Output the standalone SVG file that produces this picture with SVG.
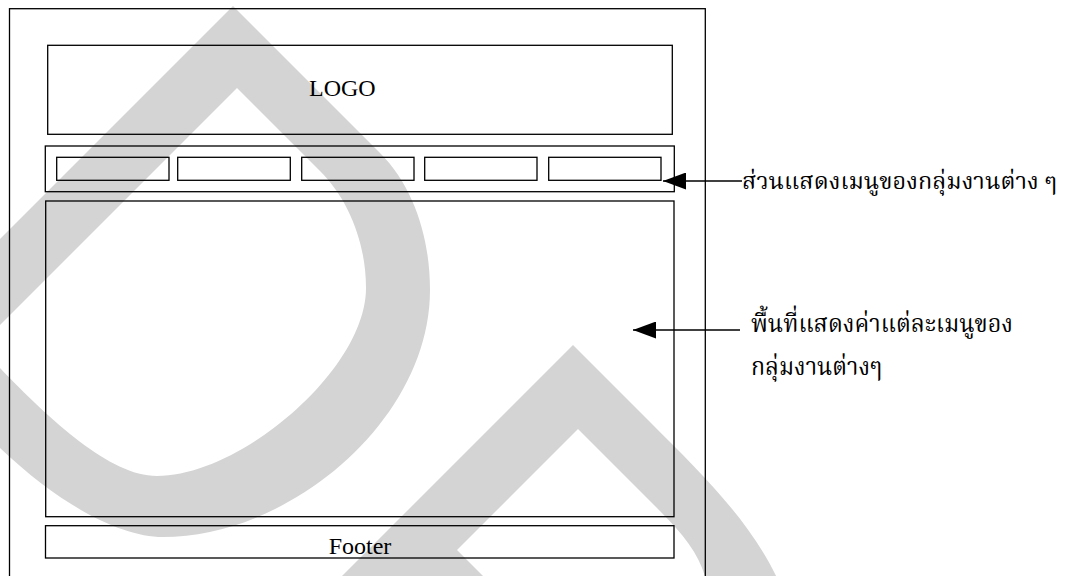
<svg xmlns="http://www.w3.org/2000/svg" width="1068" height="576" viewBox="0 0 1068 576">
<style>
.box{fill:none;stroke:#000;stroke-width:1.3}
.lbl{font-family:"Liberation Serif","Times New Roman",serif;font-size:24px;fill:#000}
.th{font-family:"Noto Serif Thai","Norasi","Kinnari","Angsana New","Noto Sans Thai Looped","Garuda","Noto Sans Thai","Loma",sans-serif;font-size:25px;fill:#000}
.th1{font-size:23.5px}
.conn{stroke:#000;stroke-width:1.3;fill:none}
.wm{fill:#d4d4d4;fill-rule:evenodd}
</style>
<defs>
<marker id="ah" markerUnits="userSpaceOnUse" markerWidth="24" markerHeight="17" refX="23" refY="8.5" orient="auto">
<path d="M0,0 L23,8.5 L0,17 Z" fill="#000"/>
</marker>
</defs>
<g id="watermark">
<path class="wm" d="M-20,259 L233,6 L380,153 C415,188 430,240 430,290 C430,420 290,537 163,537 C120,537 60,505 0,448 L-20,428 Z M237,88 L-20,345 L-20,350 L0,368 C50,420 110,476 157,476 C240,476 366,370 366,288 C366,245 350,201 320,171 Z"/>
<path class="wm" d="M573,345 L650,422 C700,472 750,520 778,580 L706,580 C700,556 685,536 660,511 L578,429 L457,550 L487,580 L338,580 Z"/>
</g>
<g id="page"><rect class="box" x="9.5" y="8.7" width="695.8" height="600"/></g>
<g id="logo"><rect class="box" x="47.7" y="45.3" width="624.6" height="89"/><text class="lbl" x="309" y="96">LOGO</text></g>
<g id="menubar">
<rect class="box" x="45.3" y="146" width="629" height="45.7"/>
<rect class="box" x="56.7" y="157.3" width="112.3" height="23"/>
<rect class="box" x="177.7" y="157.3" width="112.6" height="23"/>
<rect class="box" x="301.7" y="157.3" width="112.3" height="23"/>
<rect class="box" x="424.7" y="157.3" width="112.3" height="23"/>
<rect class="box" x="548.7" y="157.3" width="112.3" height="23"/>
</g>
<g id="content"><rect class="box" x="45.7" y="201" width="628.3" height="315.7"/></g>
<g id="footer"><rect class="box" x="45.5" y="525.7" width="628.5" height="32.3"/><text class="lbl" x="360" y="553.7" text-anchor="middle">Footer</text></g>
<g id="note-menu"><text class="th th1" x="742" y="189" textLength="315" lengthAdjust="spacingAndGlyphs">ส่วนแสดงเมนูของกลุ่มงานต่าง ๆ</text></g>
<g id="note-content"><text class="th" x="751" y="331.5" textLength="262" lengthAdjust="spacingAndGlyphs">พื้นที่แสดงค่าแต่ละเมนูของ</text><text class="th" x="751" y="375" textLength="131" lengthAdjust="spacingAndGlyphs">กลุ่มงานต่างๆ</text></g>
<g id="connectors">
<line class="conn" x1="742" y1="181" x2="663" y2="181" marker-end="url(#ah)"/>
<line class="conn" x1="740" y1="330" x2="633" y2="330" marker-end="url(#ah)"/>
</g>
</svg>
